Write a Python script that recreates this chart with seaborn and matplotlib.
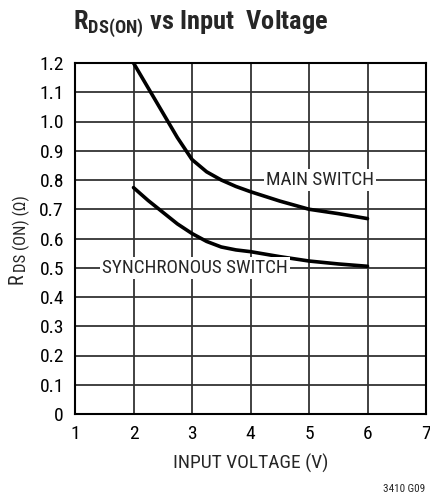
import matplotlib
matplotlib.use("Agg")
import matplotlib.pyplot as plt
import seaborn as sns
import pandas as pd
from matplotlib import font_manager

voltage = [2.0, 2.25, 2.5, 2.75, 3.0, 3.25, 3.5, 3.75, 4.0, 4.5, 5.0, 5.5, 6.0]
main_switch = [1.20, 1.115, 1.03, 0.945, 0.87, 0.828, 0.80, 0.778, 0.76, 0.728, 0.70, 0.685, 0.668]
sync_switch = [0.774, 0.73, 0.69, 0.65, 0.617, 0.59, 0.571, 0.561, 0.555, 0.538, 0.523, 0.513, 0.505]
x_ticks = [1, 2, 3, 4, 5, 6, 7]
y_ticks = [0, 0.1, 0.2, 0.3, 0.4, 0.5, 0.6, 0.7, 0.8, 0.9, 1.0, 1.1, 1.2]
y_tick_labels = ["0", "0.1", "0.2", "0.3", "0.4", "0.5", "0.6", "0.7", "0.8", "0.9", "1.0", "1.1", "1.2"]

sns.set_style("white")
names = {f.name for f in font_manager.fontManager.ttflist}
fam = "Liberation Sans"
for cand in ["Roboto Condensed", "Liberation Sans Narrow", "Open Sans Condensed", "Roboto"]:
    if cand in names:
        fam = cand
        break
plt.rcParams["font.family"] = [fam, "DejaVu Sans"]
plt.rcParams["mathtext.fontset"] = "custom"
plt.rcParams["mathtext.rm"] = fam
plt.rcParams["mathtext.it"] = fam
plt.rcParams["mathtext.bf"] = fam + ":bold"

df = pd.DataFrame({
    "V": voltage * 2,
    "R": main_switch + sync_switch,
    "s": ["MAIN SWITCH"] * len(voltage) + ["SYNCHRONOUS SWITCH"] * len(voltage),
})

fig = plt.figure(figsize=(4.3, 4.96), dpi=100)
ax = fig.add_axes([75 / 430, 1 - 414 / 496, 351 / 430, 351 / 496])
sns.lineplot(data=df, x="V", y="R", units="s", estimator=None, color="black",
             linewidth=2.6, ax=ax, legend=False, zorder=3)

ax.set_xlim(1, 7)
ax.set_ylim(0, 1.2)
ax.set_xticks(x_ticks)
ax.set_yticks(y_ticks)
ax.set_yticklabels(y_tick_labels)
ax.grid(True, color="#333333", linewidth=1.3)
ax.set_axisbelow(True)
for s in ax.spines.values():
    s.set_color("black")
    s.set_linewidth(1.5)
ax.tick_params(length=0, labelsize=14, pad=8, colors="black")
ax.set_xlabel("INPUT VOLTAGE (V)", fontsize=14, labelpad=8)
ax.set_ylabel("")

# y-axis label: R with smaller subscript part
fig.text(17.5 / 430, 1 - 284 / 496, "R", fontsize=14.5, rotation=90, ha="center", va="bottom")
fig.text(21.5 / 430, 1 - 272 / 496, "DS (ON) (Ω)", fontsize=12, rotation=90, ha="center", va="bottom")

bbox = dict(facecolor="white", edgecolor="none", pad=1.5)
ax.text(5.19, 0.8, "MAIN SWITCH", fontsize=13.8, ha="center", va="center", bbox=bbox, zorder=4)
ax.text(3.05, 0.5, "SYNCHRONOUS SWITCH", fontsize=13.8, ha="center", va="center", bbox=bbox, zorder=4)

fig.text(73 / 430, 1 - 24 / 496, r"R$_{\mathbf{DS(ON)}}$ vs Input  Voltage", fontsize=19,
         fontweight="bold", ha="left", va="center")
fig.text(425 / 430, 1 - 489 / 496, "3410 G09", fontsize=8, ha="right", va="center")

fig.savefig("out.png", dpi=100)
